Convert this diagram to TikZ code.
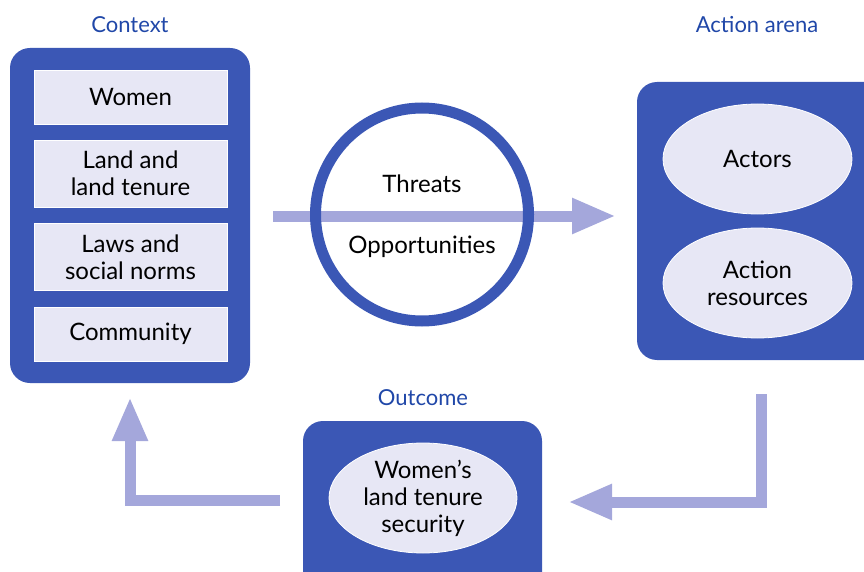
\documentclass[tikz,border=0pt]{standalone}
\usepackage{fontspec}
\setmainfont{Lato}
\usetikzlibrary{shapes.geometric,arrows.meta}
\definecolor{boxblue}{HTML}{3B57B5}
\definecolor{lightfill}{HTML}{E7E7F5}
\definecolor{arrowcol}{HTML}{A4A7DB}
\definecolor{labelblue}{HTML}{2047A8}
\tikzset{
  bodyfont/.style={font=\fontsize{24}{27}\selectfont},
  outerbox/.style={fill=boxblue, rounded corners=20pt},
  innerrect/.style={fill=lightfill, draw=white, line width=0.8pt, minimum width=193pt, align=center, bodyfont, inner sep=0pt},
  oval/.style={ellipse, fill=lightfill, draw=white, line width=0.8pt, minimum width=189pt, minimum height=110pt, align=center, bodyfont, inner sep=0pt},
  header/.style={text=labelblue, font=\fontsize{22}{26}\selectfont},
  flow/.style={draw=arrowcol, line width=11pt, -{Triangle[width=33pt,length=44pt]}, arrowcol},
  ring/.style={circle, draw=boxblue, line width=11pt, minimum size=213pt, inner sep=0pt, outer sep=0pt}
}
\begin{document}
\begin{tikzpicture}[x=1pt,y=-1pt]
\useasboundingbox (0,0) rectangle (864,572);
% Headers
\node[header] (hctx) at (130,25) {Context};
\node[header] (hact) at (757,25) {Action arena};
\node[header] (hout) at (423,398) {Outcome};
% Context box
\path[outerbox] (10,48) rectangle (250,383);
\node[innerrect, minimum height=54pt] (women) at (130.5,97) {Women};
\node[innerrect, minimum height=67pt] (land) at (130.5,173.5) {Land and\\land tenure};
\node[innerrect, minimum height=67pt] (laws) at (130.5,257) {Laws and\\social norms};
\node[innerrect, minimum height=54pt] (comm) at (130.5,334) {Community};
% Action arena box
\path[outerbox] (637,82) rectangle (900,360);
\node[oval] (actors) at (757.5,159) {Actors};
\node[oval] (res) at (757.5,283) {Action\\resources};
% Outcome box
\path[outerbox] (303,421) rectangle (542,620);
\node[oval, minimum width=188pt, minimum height=110pt] (sec) at (423,498) {Women’s\\land tenure\\security};
% Arrows
\coordinate (a1s) at (273,216);
\coordinate (a1e) at (616,216);
\draw[flow] (a1s) -- (a1e);
\node[ring] (circ) at (422,214.5) {};
\node[bodyfont] (thr) at (422,184) {Threats};
\node[bodyfont] (opp) at (422,247) {Opportunities};
\coordinate (a2s) at (761.5,394);
\coordinate (a2m) at (761.5,502);
\coordinate (a2e) at (568,502);
\draw[flow] (a2s) -- (a2m) -- (a2e);
\coordinate (a3s) at (280,500.5);
\coordinate (a3m) at (130,500.5);
\coordinate (a3e) at (130,397);
\draw[flow] (a3s) -- (a3m) -- (a3e);
\end{tikzpicture}
\end{document}
